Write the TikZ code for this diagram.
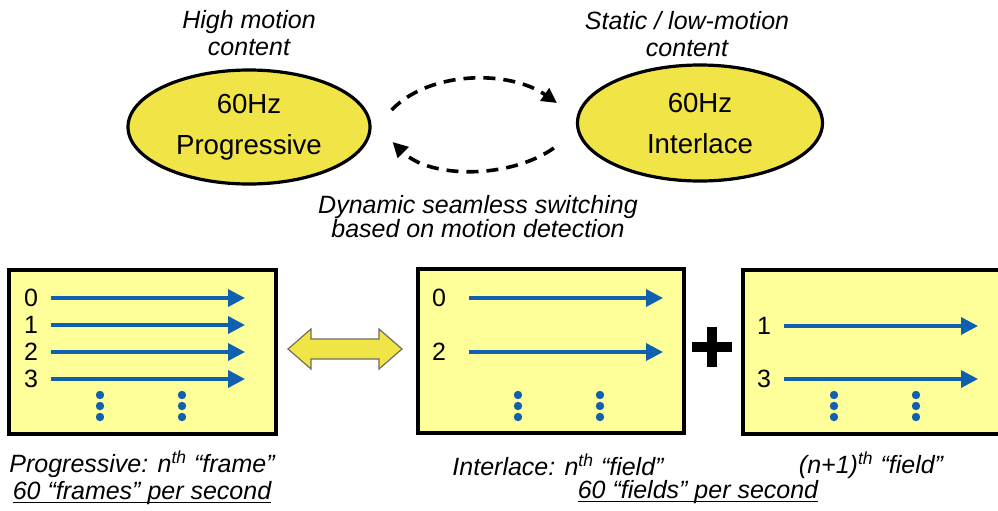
\documentclass[tikz,border=0pt]{standalone}
\usepackage{fontspec}
\setmainfont{Liberation Sans}
\usetikzlibrary{arrows.meta,shapes.geometric}
\definecolor{ModeYellow}{RGB}{240,228,70}
\definecolor{PanelYellow}{RGB}{255,255,153}
\definecolor{ScanBlue}{RGB}{16,96,176}
\definecolor{SwapEdge}{RGB}{110,110,90}
% underline sitting just below the baseline
\newcommand{\rateline}[1]{\leavevmode\setbox0=\hbox{#1}\rlap{\rule[-1.8pt]{\wd0}{0.6pt}}\box0}

\begin{document}
\begin{tikzpicture}[x=0.5pt,y=-0.5pt,
    mode/.style={shape=ellipse, draw, line width=1.6pt, fill=ModeYellow, minimum width=121pt, minimum height=57pt, inner sep=0pt, align=center, font=\fontsize{13.8}{20.5}\selectfont},
    note/.style={align=center, font=\fontsize{12.5}{13.5}\selectfont\itshape},
    panel/.style={shape=rectangle, draw, line width=2pt, fill=PanelYellow, inner sep=0pt, minimum height=82pt},
    rowlabel/.style={font=\fontsize{12.5}{14}\selectfont, inner sep=0pt},
    scan/.style={draw=ScanBlue, line width=1.8pt, -{Triangle[length=8.5pt,width=8.5pt]}},
    switch/.style={dash pattern=on 6pt off 4pt, line width=1.8pt, -{Triangle[length=7.5pt,width=7.5pt]}}]
    \useasboundingbox (0,0) rectangle (998,510);

    % the two display modes
    \node (ProgMode) [mode] at (249,127) {60Hz\\Progressive};
    \node (InterMode) [mode, minimum width=122.5pt, minimum height=58pt] at (700,123) {60Hz\\Interlace};
    \node (HighNote) [note] at (249,33) {High motion\\content};
    \node (StaticNote) [note] at (687,34) {Static / low-motion\\content};
    \node (SwitchNote) [note, font=\fontsize{12.5}{12}\selectfont\itshape] at (478,217) {Dynamic seamless switching\\based on motion detection};

    \draw[switch] ([shift={(20,-17)}]ProgMode.east) .. controls (430,70) and (510,70) .. ([shift={(-19,-20)}]InterMode.west);
    \draw[switch] ([shift={(-22,25)}]InterMode.west) .. controls (510,179) and (430,179) .. ([shift={(21,15)}]ProgMode.east);

    % progressive frame
    \node (ProgPanel) [panel, minimum width=133.5pt] at (142.5,352) {};
    \foreach \n/\y in {0/298,1/325,2/352,3/379} {
        \node (Prog\n) [rowlabel] at (31,\y) {\n};
        \coordinate (ProgEnd\n) at (245,\y);
        \draw[scan, shorten <=6.5pt] (Prog\n) -- (ProgEnd\n);
    }
    \foreach \x in {100,182}
        \foreach \y in {395,406,417}
            \fill[ScanBlue] (\x,\y) circle (2.1pt);

    % swap arrow
    \draw[SwapEdge, fill=ModeYellow, line width=0.6pt] (288,349) -- (311,329) -- (311,339) -- (379,339) -- (379,329) -- (402,349) -- (379,369) -- (379,359) -- (311,359) -- (311,369) -- cycle;

    % even field
    \node (EvenPanel) [panel, minimum width=133pt] at (551,351) {};
    \foreach \n/\y in {0/298,2/352} {
        \node (Even\n) [rowlabel] at (439,\y) {\n};
        \coordinate (EvenEnd\n) at (663,\y);
        \draw[scan, shorten <=11.5pt] (Even\n) -- (EvenEnd\n);
    }
    \foreach \x in {518,600}
        \foreach \y in {395,406,417}
            \fill[ScanBlue] (\x,\y) circle (2.1pt);

    % plus
    \fill (692,342) rectangle (732,352);
    \fill (707,327) rectangle (717,367);

    % odd field
    \node (OddPanel) [panel, minimum width=128.5pt] at (871.5,351.5) {};
    \foreach \n/\y in {1/326,3/379} {
        \node (Odd\n) [rowlabel] at (764,\y) {\n};
        \coordinate (OddEnd\n) at (978,\y);
        \draw[scan, shorten <=6.5pt] (Odd\n) -- (OddEnd\n);
    }
    \foreach \x in {834,916}
        \foreach \y in {395,406,417}
            \fill[ScanBlue] (\x,\y) circle (2.1pt);

    % captions
    \node (ProgCaption) [note] at (142,478) {Progressive: n\textsuperscript{th} “frame”\\\rateline{60 “frames” per second}};
    \node (EvenCaption) [note] at (558,465) {Interlace: n\textsuperscript{th} “field”};
    \node (OddCaption) [note] at (871,465) {(n+1)\textsuperscript{th} “field”};
    \node (FieldRate) [note] at (698,492) {\rateline{60 “fields” per second}};
\end{tikzpicture}
\end{document}
